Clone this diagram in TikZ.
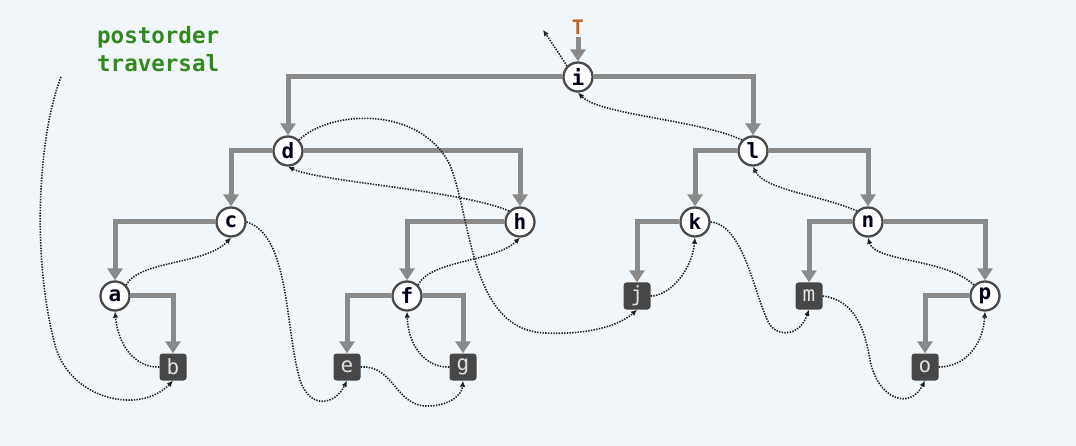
\documentclass[tikz,border=0pt]{standalone}
\usepackage{fontspec}
\setmonofont{DejaVu Sans Mono}
\usetikzlibrary{arrows.meta}
\definecolor{bgc}{HTML}{F0F6FA}
\definecolor{edgec}{HTML}{8A8A8A}
\definecolor{ringc}{HTML}{4A4A4A}
\definecolor{boxc}{HTML}{474747}
\definecolor{greenc}{HTML}{328A1E}
\definecolor{tc}{HTML}{C0661E}
\definecolor{dotc}{HTML}{202020}
\tikzset{
  inner/.style={circle, draw=ringc, line width=2.3pt, fill=white, minimum size=29pt, inner sep=0pt,
    font=\fontsize{21}{21}\selectfont\ttfamily\bfseries, text=black!90!blue},
  leaf/.style={rectangle, rounded corners=3pt, fill=boxc, minimum size=27pt, inner sep=0pt,
    font=\fontsize{21}{21}\selectfont\ttfamily, text=white!88!black},
  tree/.style={draw=edgec, line width=5pt, line join=miter,
    -{Triangle[width=15pt,length=12pt]}},
  trav/.style={draw=dotc, line width=1.6pt, dash pattern=on 1.4pt off 1.3pt,
    -{Latex[length=6pt,width=5.5pt]}}
}
\begin{document}
\begin{tikzpicture}[x=1pt,y=-1pt]
\useasboundingbox (0,0) rectangle (1076,446);
\fill[bgc] (0,0) rectangle (1076,446);

% label
\node[anchor=base west, align=left, text=greenc,
  font=\fontsize{22.5}{28}\selectfont\ttfamily\bfseries, inner sep=0pt] (lab) at (97,72)
  {postorder\\traversal};

% nodes
\node[text=tc, font=\fontsize{20}{20}\selectfont\ttfamily\bfseries, inner sep=2.5pt] (T) at (578,27) {T};
\node[inner] (i) at (578,77) {i};
\node[inner] (d) at (288,151) {d};
\node[inner] (l) at (753,151) {l};
\node[inner] (c) at (231,222) {c};
\node[inner] (h) at (520,222) {h};
\node[inner] (k) at (695,222) {k};
\node[inner] (n) at (868,222) {n};
\node[inner] (a) at (115,296) {a};
\node[inner] (f) at (407,296) {f};
\node[leaf] (j) at (637,296) {j};
\node[leaf] (m) at (809,296) {m};
\node[inner] (p) at (985,296) {p};
\node[leaf] (b) at (173,367) {b};
\node[leaf] (e) at (347,367) {e};
\node[leaf] (g) at (463,367) {g};
\node[leaf] (o) at (925,367) {o};

% tree edges
\draw[tree] (T) -- (i);
\draw[tree] (i) -| (d);
\draw[tree] (i) -| (l);
\draw[tree] (d) -| (c);
\draw[tree] (d) -| (h);
\draw[tree] (l) -| (k);
\draw[tree] (l) -| (n);
\draw[tree] (c) -| (a);
\draw[tree] (h) -| (f);
\draw[tree] (k) -| (j);
\draw[tree] (n) -| (m);
\draw[tree] (n) -| (p);
\draw[tree] (a) -| (b);
\draw[tree] (f) -| (e);
\draw[tree] (f) -| (g);
\draw[tree] (p) -| (o);

% traversal path
\coordinate (start) at (61,77);
\coordinate (endp) at (543,30);
\draw[trav] (start) .. controls (40,130) and (30,250) .. (55,345)
  .. controls (70,400) and (140,415) .. (b.south);
\draw[trav] (b.west) .. controls (135,368) and (118,345) .. (a.south);
\draw[trav] (a.north east) .. controls (140,260) and (205,265) .. (c.south);
\draw[trav] (c.east) .. controls (290,235) and (285,330) .. (300,380)
  .. controls (310,410) and (335,405) .. (e.south);
\draw[trav] (e.east) .. controls (395,365) and (395,408) .. (430,406)
  .. controls (450,405) and (462,395) .. (g.south);
\draw[trav] (g.west) .. controls (425,368) and (408,345) .. (f.south);
\draw[trav] (f.north east) .. controls (430,260) and (495,262) .. (h.south);
\draw[trav] (h.north west) .. controls (460,190) and (320,182) .. (d.south);
\draw[trav] (d.north east) .. controls (330,110) and (420,105) .. (450,165)
  .. controls (472,220) and (470,330) .. (545,333)
  .. controls (590,335) and (620,325) .. (j.south);
\draw[trav] (j.east) .. controls (670,296) and (692,270) .. (k.south);
\draw[trav] (k.east) .. controls (745,225) and (755,300) .. (770,325)
  .. controls (780,338) and (800,335) .. (m.south);
\draw[trav] (m.east) .. controls (855,300) and (865,330) .. (870,360)
  .. controls (878,400) and (910,410) .. (o.south);
\draw[trav] (o.east) .. controls (965,367) and (983,345) .. (p.south);
\draw[trav] (p.north west) .. controls (945,258) and (875,262) .. (n.south);
\draw[trav] (n.north west) .. controls (820,195) and (765,190) .. (l.south);
\draw[trav] (l.north west) .. controls (700,120) and (600,115) .. (i.south);
\draw[trav] (i.north west) .. controls (560,55) and (550,40) .. (endp);
\end{tikzpicture}
\end{document}
